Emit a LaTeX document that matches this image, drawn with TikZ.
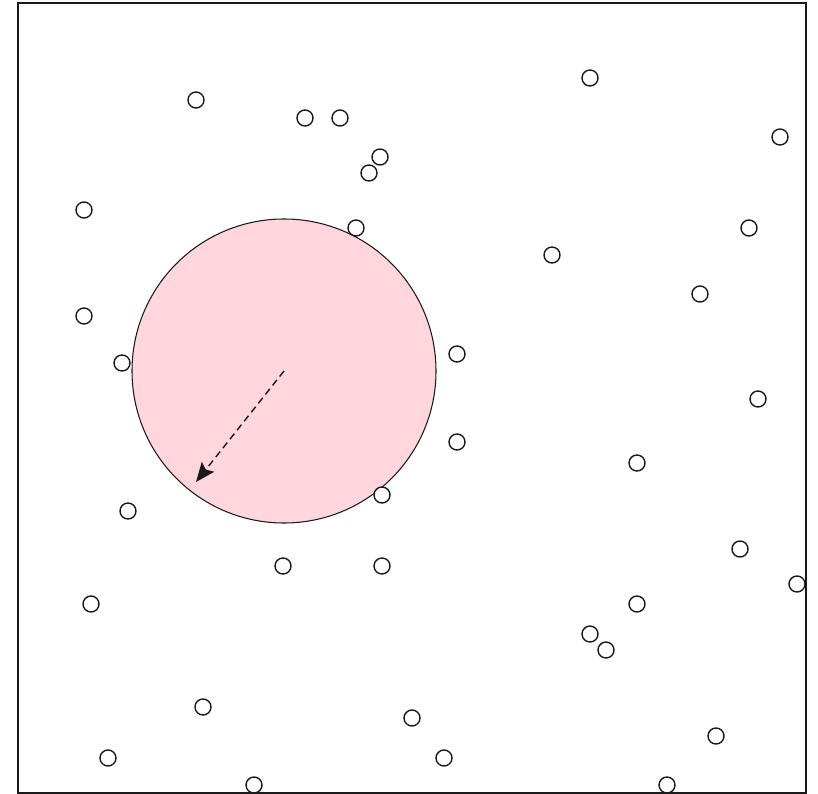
\documentclass[tikz,border=0pt]{standalone}
\usepackage{tikz}
\usetikzlibrary{arrows.meta, calc, positioning}
\definecolor{rosa}{HTML}{FFD6DE}
\definecolor{rand}{HTML}{1A1A1A}

\begin{document}
\begin{tikzpicture}[x=0.02cm, y=-0.02cm]
      % Rahmen
      \useasboundingbox (0,0) rectangle (818,794);
      \draw[rand, line width=0.6pt] (18,3) rectangle (806,793);

      % Kugel mit Radius
      \coordinate (M) at (284,371);
      \fill[rosa] (M) circle (152);
      \draw[rand, line width=0.6pt] (M) circle (152);
      \coordinate (R) at ($(M)+(-88,111)$);
      \draw[rand, dashed, dash pattern=on 4pt off 2.5pt, line width=0.8pt,
            -{Stealth[length=11pt, width=9pt, inset=2pt]}] (M) -- (R);

      % Punkte
      \foreach \x/\y [count=\i] in {196/99, 305/117, 340/117, 380/156, 369/172,
                                    84/209, 356/227, 590/77, 780/136, 749/227,
                                    552/254, 700/293, 84/315, 122/362, 457/353,
                                    457/441, 758/398, 637/462, 128/510, 382/494,
                                    283/565, 382/565, 91/603, 740/548, 797/583,
                                    637/603, 590/633, 606/649, 203/706, 412/717,
                                    716/735, 108/757, 444/757, 254/784, 667/784} {
        \coordinate (p\i) at (\x,\y+1);
        \filldraw[fill=white, draw=rand, line width=0.8pt] (p\i) circle (8);
      }
    \end{tikzpicture}
\end{document}
